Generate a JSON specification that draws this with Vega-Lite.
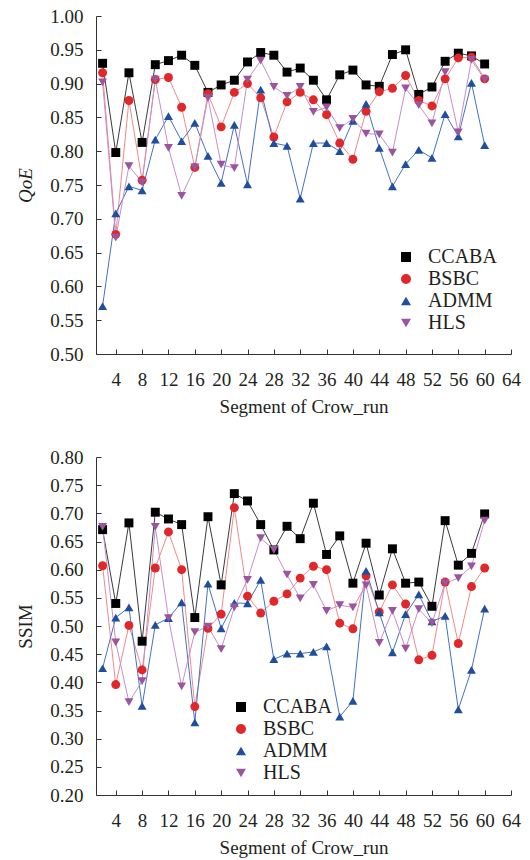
{
  "$schema": "https://vega.github.io/schema/vega-lite/v6.json",
  "padding": {"left": 16, "top": 7, "right": 10, "bottom": 5},
  "background": "white",
  "config": {
    "font": "Liberation Serif",
    "view": {"stroke": null},
    "concat": {"spacing": 32},
    "axis": {
      "labelFont": "Liberation Serif", "labelFontSize": 19, "labelColor": "#231f20",
      "titleFont": "Liberation Serif", "titleFontSize": 19, "titleFontWeight": "normal", "titleColor": "#231f20",
      "domainColor": "#333333", "tickColor": "#333333", "tickSize": -5, "grid": false, "domainWidth": 1,
      "labelFlush": false, "labelOverlap": false
    },
    "axisX": {"labelPadding": 21, "titlePadding": 8},
    "axisY": {"labelPadding": 18, "titlePadding": 14},
    "legend": {"labelFont": "Liberation Serif", "labelFontSize": 20, "labelColor": "#231f20", "padding": 0, "symbolSize": 100, "labelOffset": 12, "rowPadding": 2}
  },
  "datasets": {
    "qoe": [
      {"seg":2,"method":"CCABA","v":0.930},{"seg":4,"method":"CCABA","v":0.798},{"seg":6,"method":"CCABA","v":0.916},{"seg":8,"method":"CCABA","v":0.813},{"seg":10,"method":"CCABA","v":0.928},{"seg":12,"method":"CCABA","v":0.934},{"seg":14,"method":"CCABA","v":0.942},{"seg":16,"method":"CCABA","v":0.927},{"seg":18,"method":"CCABA","v":0.887},{"seg":20,"method":"CCABA","v":0.898},{"seg":22,"method":"CCABA","v":0.905},{"seg":24,"method":"CCABA","v":0.932},{"seg":26,"method":"CCABA","v":0.946},{"seg":28,"method":"CCABA","v":0.942},{"seg":30,"method":"CCABA","v":0.917},{"seg":32,"method":"CCABA","v":0.923},{"seg":34,"method":"CCABA","v":0.905},{"seg":36,"method":"CCABA","v":0.876},{"seg":38,"method":"CCABA","v":0.913},{"seg":40,"method":"CCABA","v":0.920},{"seg":42,"method":"CCABA","v":0.898},{"seg":44,"method":"CCABA","v":0.896},{"seg":46,"method":"CCABA","v":0.943},{"seg":48,"method":"CCABA","v":0.950},{"seg":50,"method":"CCABA","v":0.884},{"seg":52,"method":"CCABA","v":0.895},{"seg":54,"method":"CCABA","v":0.933},{"seg":56,"method":"CCABA","v":0.945},{"seg":58,"method":"CCABA","v":0.941},{"seg":60,"method":"CCABA","v":0.929},
      {"seg":2,"method":"BSBC","v":0.916},{"seg":4,"method":"BSBC","v":0.677},{"seg":6,"method":"BSBC","v":0.875},{"seg":8,"method":"BSBC","v":0.757},{"seg":10,"method":"BSBC","v":0.906},{"seg":12,"method":"BSBC","v":0.909},{"seg":14,"method":"BSBC","v":0.865},{"seg":16,"method":"BSBC","v":0.776},{"seg":18,"method":"BSBC","v":0.885},{"seg":20,"method":"BSBC","v":0.836},{"seg":22,"method":"BSBC","v":0.887},{"seg":24,"method":"BSBC","v":0.900},{"seg":26,"method":"BSBC","v":0.879},{"seg":28,"method":"BSBC","v":0.821},{"seg":30,"method":"BSBC","v":0.873},{"seg":32,"method":"BSBC","v":0.887},{"seg":34,"method":"BSBC","v":0.876},{"seg":36,"method":"BSBC","v":0.854},{"seg":38,"method":"BSBC","v":0.812},{"seg":40,"method":"BSBC","v":0.788},{"seg":42,"method":"BSBC","v":0.859},{"seg":44,"method":"BSBC","v":0.888},{"seg":46,"method":"BSBC","v":0.893},{"seg":48,"method":"BSBC","v":0.912},{"seg":50,"method":"BSBC","v":0.875},{"seg":52,"method":"BSBC","v":0.867},{"seg":54,"method":"BSBC","v":0.907},{"seg":56,"method":"BSBC","v":0.938},{"seg":58,"method":"BSBC","v":0.939},{"seg":60,"method":"BSBC","v":0.907},
      {"seg":2,"method":"ADMM","v":0.571},{"seg":4,"method":"ADMM","v":0.708},{"seg":6,"method":"ADMM","v":0.748},{"seg":8,"method":"ADMM","v":0.742},{"seg":10,"method":"ADMM","v":0.817},{"seg":12,"method":"ADMM","v":0.852},{"seg":14,"method":"ADMM","v":0.815},{"seg":16,"method":"ADMM","v":0.842},{"seg":18,"method":"ADMM","v":0.793},{"seg":20,"method":"ADMM","v":0.753},{"seg":22,"method":"ADMM","v":0.839},{"seg":24,"method":"ADMM","v":0.751},{"seg":26,"method":"ADMM","v":0.891},{"seg":28,"method":"ADMM","v":0.812},{"seg":30,"method":"ADMM","v":0.808},{"seg":32,"method":"ADMM","v":0.730},{"seg":34,"method":"ADMM","v":0.812},{"seg":36,"method":"ADMM","v":0.812},{"seg":38,"method":"ADMM","v":0.800},{"seg":40,"method":"ADMM","v":0.845},{"seg":42,"method":"ADMM","v":0.870},{"seg":44,"method":"ADMM","v":0.805},{"seg":46,"method":"ADMM","v":0.748},{"seg":48,"method":"ADMM","v":0.781},{"seg":50,"method":"ADMM","v":0.802},{"seg":52,"method":"ADMM","v":0.790},{"seg":54,"method":"ADMM","v":0.855},{"seg":56,"method":"ADMM","v":0.822},{"seg":58,"method":"ADMM","v":0.901},{"seg":60,"method":"ADMM","v":0.809},
      {"seg":2,"method":"HLS","v":0.902},{"seg":4,"method":"HLS","v":0.672},{"seg":6,"method":"HLS","v":0.778},{"seg":8,"method":"HLS","v":0.754},{"seg":10,"method":"HLS","v":0.906},{"seg":12,"method":"HLS","v":0.805},{"seg":14,"method":"HLS","v":0.734},{"seg":16,"method":"HLS","v":0.776},{"seg":18,"method":"HLS","v":0.879},{"seg":20,"method":"HLS","v":0.780},{"seg":22,"method":"HLS","v":0.775},{"seg":24,"method":"HLS","v":0.906},{"seg":26,"method":"HLS","v":0.934},{"seg":28,"method":"HLS","v":0.895},{"seg":30,"method":"HLS","v":0.882},{"seg":32,"method":"HLS","v":0.895},{"seg":34,"method":"HLS","v":0.858},{"seg":36,"method":"HLS","v":0.865},{"seg":38,"method":"HLS","v":0.834},{"seg":40,"method":"HLS","v":0.848},{"seg":42,"method":"HLS","v":0.826},{"seg":44,"method":"HLS","v":0.825},{"seg":46,"method":"HLS","v":0.798},{"seg":48,"method":"HLS","v":0.893},{"seg":50,"method":"HLS","v":0.868},{"seg":52,"method":"HLS","v":0.841},{"seg":54,"method":"HLS","v":0.917},{"seg":56,"method":"HLS","v":0.828},{"seg":58,"method":"HLS","v":0.935},{"seg":60,"method":"HLS","v":0.906}
    ],
    "ssim": [
      {"seg":2,"method":"CCABA","v":0.671},{"seg":4,"method":"CCABA","v":0.540},{"seg":6,"method":"CCABA","v":0.683},{"seg":8,"method":"CCABA","v":0.473},{"seg":10,"method":"CCABA","v":0.702},{"seg":12,"method":"CCABA","v":0.690},{"seg":14,"method":"CCABA","v":0.680},{"seg":16,"method":"CCABA","v":0.515},{"seg":18,"method":"CCABA","v":0.694},{"seg":20,"method":"CCABA","v":0.573},{"seg":22,"method":"CCABA","v":0.735},{"seg":24,"method":"CCABA","v":0.722},{"seg":26,"method":"CCABA","v":0.680},{"seg":28,"method":"CCABA","v":0.635},{"seg":30,"method":"CCABA","v":0.677},{"seg":32,"method":"CCABA","v":0.655},{"seg":34,"method":"CCABA","v":0.718},{"seg":36,"method":"CCABA","v":0.627},{"seg":38,"method":"CCABA","v":0.660},{"seg":40,"method":"CCABA","v":0.576},{"seg":42,"method":"CCABA","v":0.647},{"seg":44,"method":"CCABA","v":0.555},{"seg":46,"method":"CCABA","v":0.637},{"seg":48,"method":"CCABA","v":0.576},{"seg":50,"method":"CCABA","v":0.578},{"seg":52,"method":"CCABA","v":0.535},{"seg":54,"method":"CCABA","v":0.687},{"seg":56,"method":"CCABA","v":0.608},{"seg":58,"method":"CCABA","v":0.629},{"seg":60,"method":"CCABA","v":0.699},
      {"seg":2,"method":"BSBC","v":0.607},{"seg":4,"method":"BSBC","v":0.396},{"seg":6,"method":"BSBC","v":0.501},{"seg":8,"method":"BSBC","v":0.422},{"seg":10,"method":"BSBC","v":0.603},{"seg":12,"method":"BSBC","v":0.667},{"seg":14,"method":"BSBC","v":0.600},{"seg":16,"method":"BSBC","v":0.357},{"seg":18,"method":"BSBC","v":0.496},{"seg":20,"method":"BSBC","v":0.521},{"seg":22,"method":"BSBC","v":0.710},{"seg":24,"method":"BSBC","v":0.553},{"seg":26,"method":"BSBC","v":0.523},{"seg":28,"method":"BSBC","v":0.544},{"seg":30,"method":"BSBC","v":0.557},{"seg":32,"method":"BSBC","v":0.585},{"seg":34,"method":"BSBC","v":0.606},{"seg":36,"method":"BSBC","v":0.600},{"seg":38,"method":"BSBC","v":0.505},{"seg":40,"method":"BSBC","v":0.495},{"seg":42,"method":"BSBC","v":0.589},{"seg":44,"method":"BSBC","v":0.525},{"seg":46,"method":"BSBC","v":0.573},{"seg":48,"method":"BSBC","v":0.539},{"seg":50,"method":"BSBC","v":0.440},{"seg":52,"method":"BSBC","v":0.448},{"seg":54,"method":"BSBC","v":0.578},{"seg":56,"method":"BSBC","v":0.469},{"seg":58,"method":"BSBC","v":0.570},{"seg":60,"method":"BSBC","v":0.603},
      {"seg":2,"method":"ADMM","v":0.425},{"seg":4,"method":"ADMM","v":0.515},{"seg":6,"method":"ADMM","v":0.533},{"seg":8,"method":"ADMM","v":0.358},{"seg":10,"method":"ADMM","v":0.502},{"seg":12,"method":"ADMM","v":0.514},{"seg":14,"method":"ADMM","v":0.542},{"seg":16,"method":"ADMM","v":0.329},{"seg":18,"method":"ADMM","v":0.575},{"seg":20,"method":"ADMM","v":0.496},{"seg":22,"method":"ADMM","v":0.541},{"seg":24,"method":"ADMM","v":0.540},{"seg":26,"method":"ADMM","v":0.582},{"seg":28,"method":"ADMM","v":0.441},{"seg":30,"method":"ADMM","v":0.451},{"seg":32,"method":"ADMM","v":0.451},{"seg":34,"method":"ADMM","v":0.454},{"seg":36,"method":"ADMM","v":0.464},{"seg":38,"method":"ADMM","v":0.339},{"seg":40,"method":"ADMM","v":0.367},{"seg":42,"method":"ADMM","v":0.598},{"seg":44,"method":"ADMM","v":0.524},{"seg":46,"method":"ADMM","v":0.453},{"seg":48,"method":"ADMM","v":0.521},{"seg":50,"method":"ADMM","v":0.556},{"seg":52,"method":"ADMM","v":0.508},{"seg":54,"method":"ADMM","v":0.518},{"seg":56,"method":"ADMM","v":0.352},{"seg":58,"method":"ADMM","v":0.422},{"seg":60,"method":"ADMM","v":0.531},
      {"seg":2,"method":"HLS","v":0.676},{"seg":4,"method":"HLS","v":0.471},{"seg":6,"method":"HLS","v":0.365},{"seg":8,"method":"HLS","v":0.402},{"seg":10,"method":"HLS","v":0.676},{"seg":12,"method":"HLS","v":0.514},{"seg":14,"method":"HLS","v":0.393},{"seg":16,"method":"HLS","v":0.489},{"seg":18,"method":"HLS","v":0.499},{"seg":20,"method":"HLS","v":0.459},{"seg":22,"method":"HLS","v":0.533},{"seg":24,"method":"HLS","v":0.582},{"seg":26,"method":"HLS","v":0.656},{"seg":28,"method":"HLS","v":0.635},{"seg":30,"method":"HLS","v":0.591},{"seg":32,"method":"HLS","v":0.549},{"seg":34,"method":"HLS","v":0.573},{"seg":36,"method":"HLS","v":0.527},{"seg":38,"method":"HLS","v":0.537},{"seg":40,"method":"HLS","v":0.533},{"seg":42,"method":"HLS","v":0.572},{"seg":44,"method":"HLS","v":0.470},{"seg":46,"method":"HLS","v":0.527},{"seg":48,"method":"HLS","v":0.460},{"seg":50,"method":"HLS","v":0.530},{"seg":52,"method":"HLS","v":0.505},{"seg":54,"method":"HLS","v":0.576},{"seg":56,"method":"HLS","v":0.585},{"seg":58,"method":"HLS","v":0.606},{"seg":60,"method":"HLS","v":0.687}
    ]
  },
  "vconcat": [
    {
      "width": 415, "height": 338,
      "data": {"name": "qoe"},
      "encoding": {
        "x": {"field": "seg", "type": "quantitative", "scale": {"domain": [1, 64], "nice": false, "zero": false},
              "axis": {"values": [4,8,12,16,20,24,28,32,36,40,44,48,52,56,60,64], "title": "Segment of Crow_run"}},
        "y": {"field": "v", "type": "quantitative", "scale": {"domain": [0.5, 1.0], "nice": false, "zero": false},
              "axis": {"values": [0.5,0.55,0.6,0.65,0.7,0.75,0.8,0.85,0.9,0.95,1.0], "format": ".2f", "title": "QoE", "titleFontStyle": "italic"}}
      },
      "layer": [
        {"mark": {"type": "line", "strokeWidth": 1},
         "encoding": {"stroke": {"field": "method", "type": "nominal", "scale": {"domain": ["HLS","ADMM","BSBC","CCABA"], "range": ["#C490C8","#4472C4","#F08A8A","#3a3a3a"]}, "legend": null}}},
        {"mark": {"type": "point", "filled": true, "opacity": 1, "size": 80},
         "encoding": {
           "fill": {"field": "method", "type": "nominal", "scale": {"domain": ["CCABA","BSBC","ADMM","HLS"], "range": ["#000000","#E0282A","#1F4E9E","#9B55A0"]},
                    "legend": {"title": null, "orient": "none", "legendX": 300, "legendY": 231}},
           "shape": {"field": "method", "type": "nominal", "scale": {"domain": ["CCABA","BSBC","ADMM","HLS"], "range": ["square","circle","triangle-up","triangle-down"]},
                    "legend": {"title": null, "orient": "none", "legendX": 300, "legendY": 231}}
         }}
      ]
    },
    {
      "width": 415, "height": 338,
      "data": {"name": "ssim"},
      "encoding": {
        "x": {"field": "seg", "type": "quantitative", "scale": {"domain": [1, 64], "nice": false, "zero": false},
              "axis": {"values": [4,8,12,16,20,24,28,32,36,40,44,48,52,56,60,64], "title": "Segment of Crow_run"}},
        "y": {"field": "v", "type": "quantitative", "scale": {"domain": [0.2, 0.8], "nice": false, "zero": false},
              "axis": {"values": [0.2,0.25,0.3,0.35,0.4,0.45,0.5,0.55,0.6,0.65,0.7,0.75,0.8], "format": ".2f", "title": "SSIM"}}
      },
      "layer": [
        {"mark": {"type": "line", "strokeWidth": 1},
         "encoding": {"stroke": {"field": "method", "type": "nominal", "scale": {"domain": ["HLS","ADMM","BSBC","CCABA"], "range": ["#C490C8","#4472C4","#F08A8A","#3a3a3a"]}, "legend": null}}},
        {"mark": {"type": "point", "filled": true, "opacity": 1, "size": 80},
         "encoding": {
           "fill": {"field": "method", "type": "nominal", "scale": {"domain": ["CCABA","BSBC","ADMM","HLS"], "range": ["#000000","#E0282A","#1F4E9E","#9B55A0"]},
                    "legend": {"title": null, "orient": "none", "legendX": 135, "legendY": 240}},
           "shape": {"field": "method", "type": "nominal", "scale": {"domain": ["CCABA","BSBC","ADMM","HLS"], "range": ["square","circle","triangle-up","triangle-down"]},
                    "legend": {"title": null, "orient": "none", "legendX": 135, "legendY": 240}}
         }}
      ]
    }
  ],
  "resolve": {"scale": {"x": "independent", "y": "independent", "fill": "independent", "shape": "independent", "stroke": "independent"}}
}
